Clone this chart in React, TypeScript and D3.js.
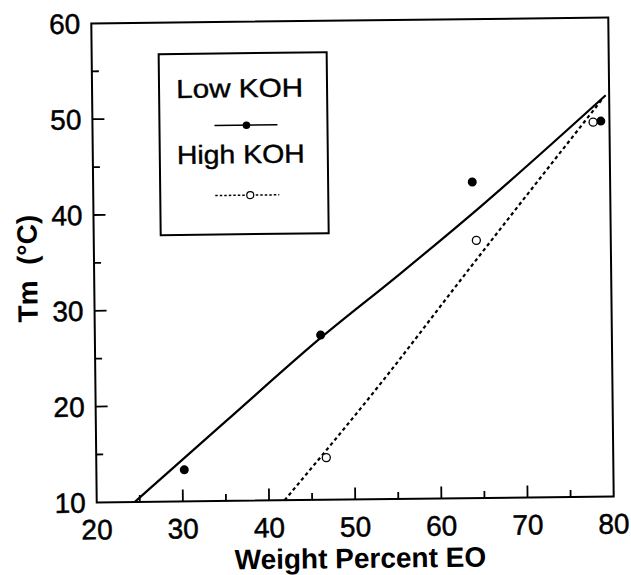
import React, { useEffect, useRef } from 'react';
import * as d3 from 'd3';

// values
const lowKOH = [
  [30.2, 13.3],
  [46.2, 27.2],
  [64.0, 43.0],
  [79.0, 49.2],
];
const highKOH = [
  [46.7, 14.4],
  [64.4, 36.9],
  [78.1, 49.1],
];
// fitted curves as drawn in the figure
const lowFit = [
  [24.4, 10], [26.2, 11.4], [35.2, 18.4], [46.2, 26.9], [55.5, 33.5], [64.9, 40.4], [79.6, 51.9],
];
const highFit = [
  [41.8, 10], [53.4, 22.4], [62.8, 33.1], [79.2, 51.5],
];
const xTicks = [20, 30, 40, 50, 60, 70, 80];
const yTicks = [10, 20, 30, 40, 50, 60];
const xMinor = [25, 35, 45, 55, 65, 75];
const yMinor = [15, 25, 35, 45, 55];

const FONT = '"Liberation Sans", Arial, sans-serif';

const App = () => {
  const chartRef = useRef<SVGSVGElement>(null);

  useEffect(() => {
    const svg = d3.select(chartRef.current);
    svg.selectAll('*').remove();

    const left = 94, right = 611, top = 20.5, bottom = 499.5;
    const cx = 351, cy = 260;

    const x = d3.scaleLinear().domain([20, 80]).range([left, right]);
    const y = d3.scaleLinear().domain([10, 60]).range([bottom, top]);

    // the scan is slightly tilted
    const g = svg.append('g').attr('transform', `rotate(-0.65,${cx},${cy})`);

    // inward ticks, built as one path
    let d = '';
    xTicks.slice(1, -1).forEach((v) => { d += `M${x(v)},${bottom}V${bottom - 12}`; });
    xMinor.forEach((v) => { d += `M${x(v)},${bottom}V${bottom - 7}`; });
    yTicks.slice(1, -1).forEach((v) => { d += `M${left},${y(v)}H${left + 12}`; });
    yMinor.forEach((v) => { d += `M${left},${y(v)}H${left + 7}`; });
    g.append('path').attr('d', d)
      .attr('fill', 'none').attr('stroke', '#000').attr('stroke-width', 1.8);

    // frame
    g.append('rect')
      .attr('x', left).attr('y', top)
      .attr('width', right - left).attr('height', bottom - top)
      .attr('fill', 'none').attr('stroke', '#000').attr('stroke-width', 2);

    // tick labels
    g.selectAll('text.xl').data(xTicks).enter().append('text')
      .attr('class', 'xl')
      .attr('x', (v) => x(v)).attr('y', bottom + 37)
      .attr('text-anchor', 'middle')
      .attr('stroke', '#000').attr('stroke-width', 0.5)
      .style('font-family', FONT).style('font-size', '28px')
      .text((v) => v);
    g.selectAll('text.yl').data(yTicks).enter().append('text')
      .attr('class', 'yl')
      .attr('x', left - 11).attr('y', (v) => y(v) + 10)
      .attr('text-anchor', 'end')
      .attr('stroke', '#000').attr('stroke-width', 0.5)
      .style('font-family', FONT).style('font-size', '28px')
      .text((v) => v);

    // axis titles
    g.append('text')
      .attr('x', 357).attr('y', 568)
      .attr('text-anchor', 'middle')
      .style('font-family', FONT).style('font-size', '28px').style('font-weight', 'bold')
      .text('Weight Percent EO');
    g.append('text')
      .attr('transform', `translate(37,265) rotate(-90)`)
      .attr('text-anchor', 'middle')
      .style('font-family', FONT).style('font-size', '28px').style('font-weight', 'bold')
      .style('white-space', 'pre')
      .text('Tm  (°C)');

    // fit lines
    const line = d3.line().x((p) => x(p[0])).y((p) => y(p[1])).curve(d3.curveMonotoneX);
    g.append('path').attr('d', line(lowFit))
      .attr('fill', 'none').attr('stroke', '#000').attr('stroke-width', 2.2);
    g.append('path').attr('d', line(highFit))
      .attr('fill', 'none').attr('stroke', '#000').attr('stroke-width', 2.2)
      .attr('stroke-dasharray', '3.5,3');

    // points
    g.selectAll('circle.lo').data(lowKOH).enter().append('circle')
      .attr('class', 'lo')
      .attr('cx', (p) => x(p[0])).attr('cy', (p) => y(p[1])).attr('r', 4.5)
      .attr('fill', '#000');
    g.selectAll('circle.hi').data(highKOH).enter().append('circle')
      .attr('class', 'hi')
      .attr('cx', (p) => x(p[0])).attr('cy', (p) => y(p[1])).attr('r', 4)
      .attr('fill', '#fff').attr('stroke', '#000').attr('stroke-width', 1.3);

    // legend
    const lg = g.append('g');
    lg.append('rect')
      .attr('x', 161).attr('y', 52).attr('width', 168).attr('height', 181)
      .attr('fill', '#fff').attr('stroke', '#000').attr('stroke-width', 2);
    lg.append('text').attr('x', 178).attr('y', 96)
      .attr('textLength', 127).attr('lengthAdjust', 'spacingAndGlyphs')
      .attr('stroke', '#000').attr('stroke-width', 0.4)
      .style('font-family', FONT).style('font-size', '26px').text('Low KOH');
    lg.append('line').attr('x1', 216).attr('x2', 279).attr('y1', 124).attr('y2', 124)
      .attr('stroke', '#000').attr('stroke-width', 1.5);
    lg.append('circle').attr('cx', 248).attr('cy', 124).attr('r', 3.8).attr('fill', '#000');
    lg.append('text').attr('x', 178).attr('y', 162)
      .attr('textLength', 128).attr('lengthAdjust', 'spacingAndGlyphs')
      .attr('stroke', '#000').attr('stroke-width', 0.4)
      .style('font-family', FONT).style('font-size', '26px').text('High KOH');
    lg.append('line').attr('x1', 216).attr('x2', 280).attr('y1', 194).attr('y2', 194)
      .attr('stroke', '#000').attr('stroke-width', 1.5).attr('stroke-dasharray', '2.5,2');
    lg.append('circle').attr('cx', 251).attr('cy', 194).attr('r', 3.5)
      .attr('fill', '#fff').attr('stroke', '#000').attr('stroke-width', 1.2);
  }, []);

  return (
    <svg
      ref={chartRef}
      width={631}
      height={575}
      style={{ position: 'absolute', left: 0, top: 0, background: '#fff' }}
    />
  );
};

export default App;
